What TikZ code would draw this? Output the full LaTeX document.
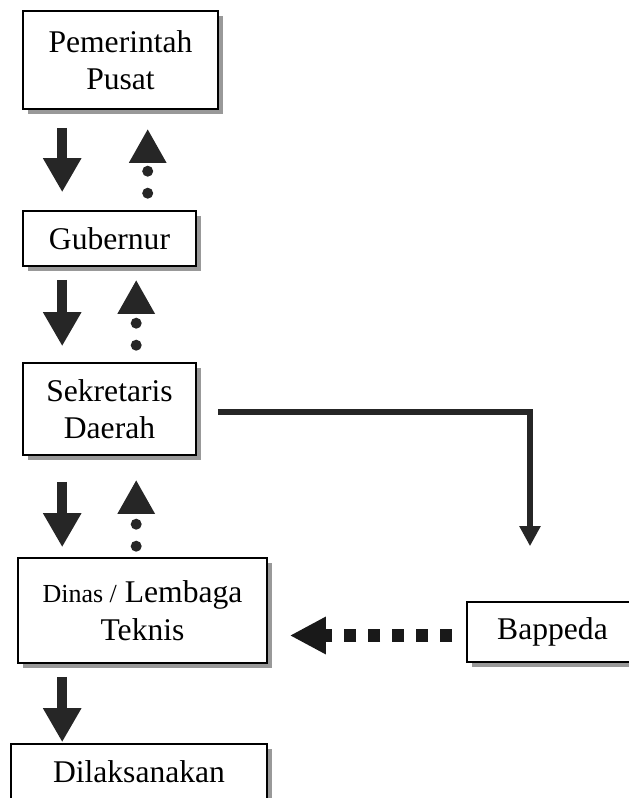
\documentclass[tikz,border=0pt]{standalone}
\usepackage{fontspec}
\setmainfont{Liberation Serif}
\usetikzlibrary{arrows.meta,shadows}
\newcommand{\boxfont}{\fontsize{31.6}{37}\selectfont}

\begin{document}
\begin{tikzpicture}[
    x=1pt, y=-1pt,
    box/.style={draw, line width=1.6pt, fill=white, align=center, font=\boxfont, inner sep=0pt,
        drop shadow={shadow xshift=5pt, shadow yshift=-5pt, fill=black!40, opacity=1}},
    down/.style={draw=black!85, line width=10pt, -{Triangle[length=34pt, width=36pt]}},
    up/.style={draw=black!85, line width=11pt, line cap=round, dash pattern=on 0pt off 22pt, -{Triangle[length=34pt, width=35pt]}},
    link/.style={draw=black!85, line width=6pt, -{Triangle[length=20pt, width=20pt]}},
    feed/.style={draw=black!90, line width=13pt, dash pattern=on 12pt off 12pt, -{Triangle[length=36pt, width=35pt]}}]
    \useasboundingbox (0,0) rectangle (629,798);
    \node[box, minimum width=195pt, minimum height=98pt] (pem) at (120.5,60) {Pemerintah\\Pusat};
    \node[box, minimum width=173pt, minimum height=55pt] (gub) at (109.5,238.5) {Gubernur};
    \node[box, minimum width=173pt, minimum height=92pt] (sek) at (109.5,409) {Sekretaris\\Daerah};
    \node[box, minimum width=249pt, minimum height=105pt, font=\fontsize{31.6}{38}\selectfont] (din) at (142.5,610.5) {{\fontsize{26}{30}\selectfont Dinas /} Lembaga\\Teknis};
    \node[box, minimum width=256pt, minimum height=56pt] (dil) at (139,772) {Dilaksanakan};
    \node[box, minimum width=171pt, minimum height=60pt] (bap) at (552.5,632) {Bappeda};
    \draw[down] ([shift={(40,18)}]pem.south west) -- ([shift={(40,-18)}]gub.north west);
    \draw[down] ([shift={(40,13)}]gub.south west) -- ([shift={(40,-16)}]sek.north west);
    \draw[down] ([shift={(40,26)}]sek.south west) -- ([shift={(45,-10)}]din.north west);
    \draw[down] ([shift={(45,13)}]din.south west) -- ([shift={(52,-1)}]dil.north west);
    \draw[up] ([shift={(125.5,-17)}]gub.north west) -- ([shift={(125.5,19)}]pem.south west);
    \draw[up] ([shift={(114,-17)}]sek.north west) -- ([shift={(114,13)}]gub.south west);
    \draw[up] ([shift={(119,-11)}]din.north west) -- ([shift={(114,24)}]sek.south west);
    \draw[link] ([shift={(21,3)}]sek.east) -| ([shift={(-22.5,-55)}]bap.north);
    \draw[feed] ([shift={(-14,3.5)}]bap.west) -- ([shift={(22,25)}]din.east);
\end{tikzpicture}
\end{document}
